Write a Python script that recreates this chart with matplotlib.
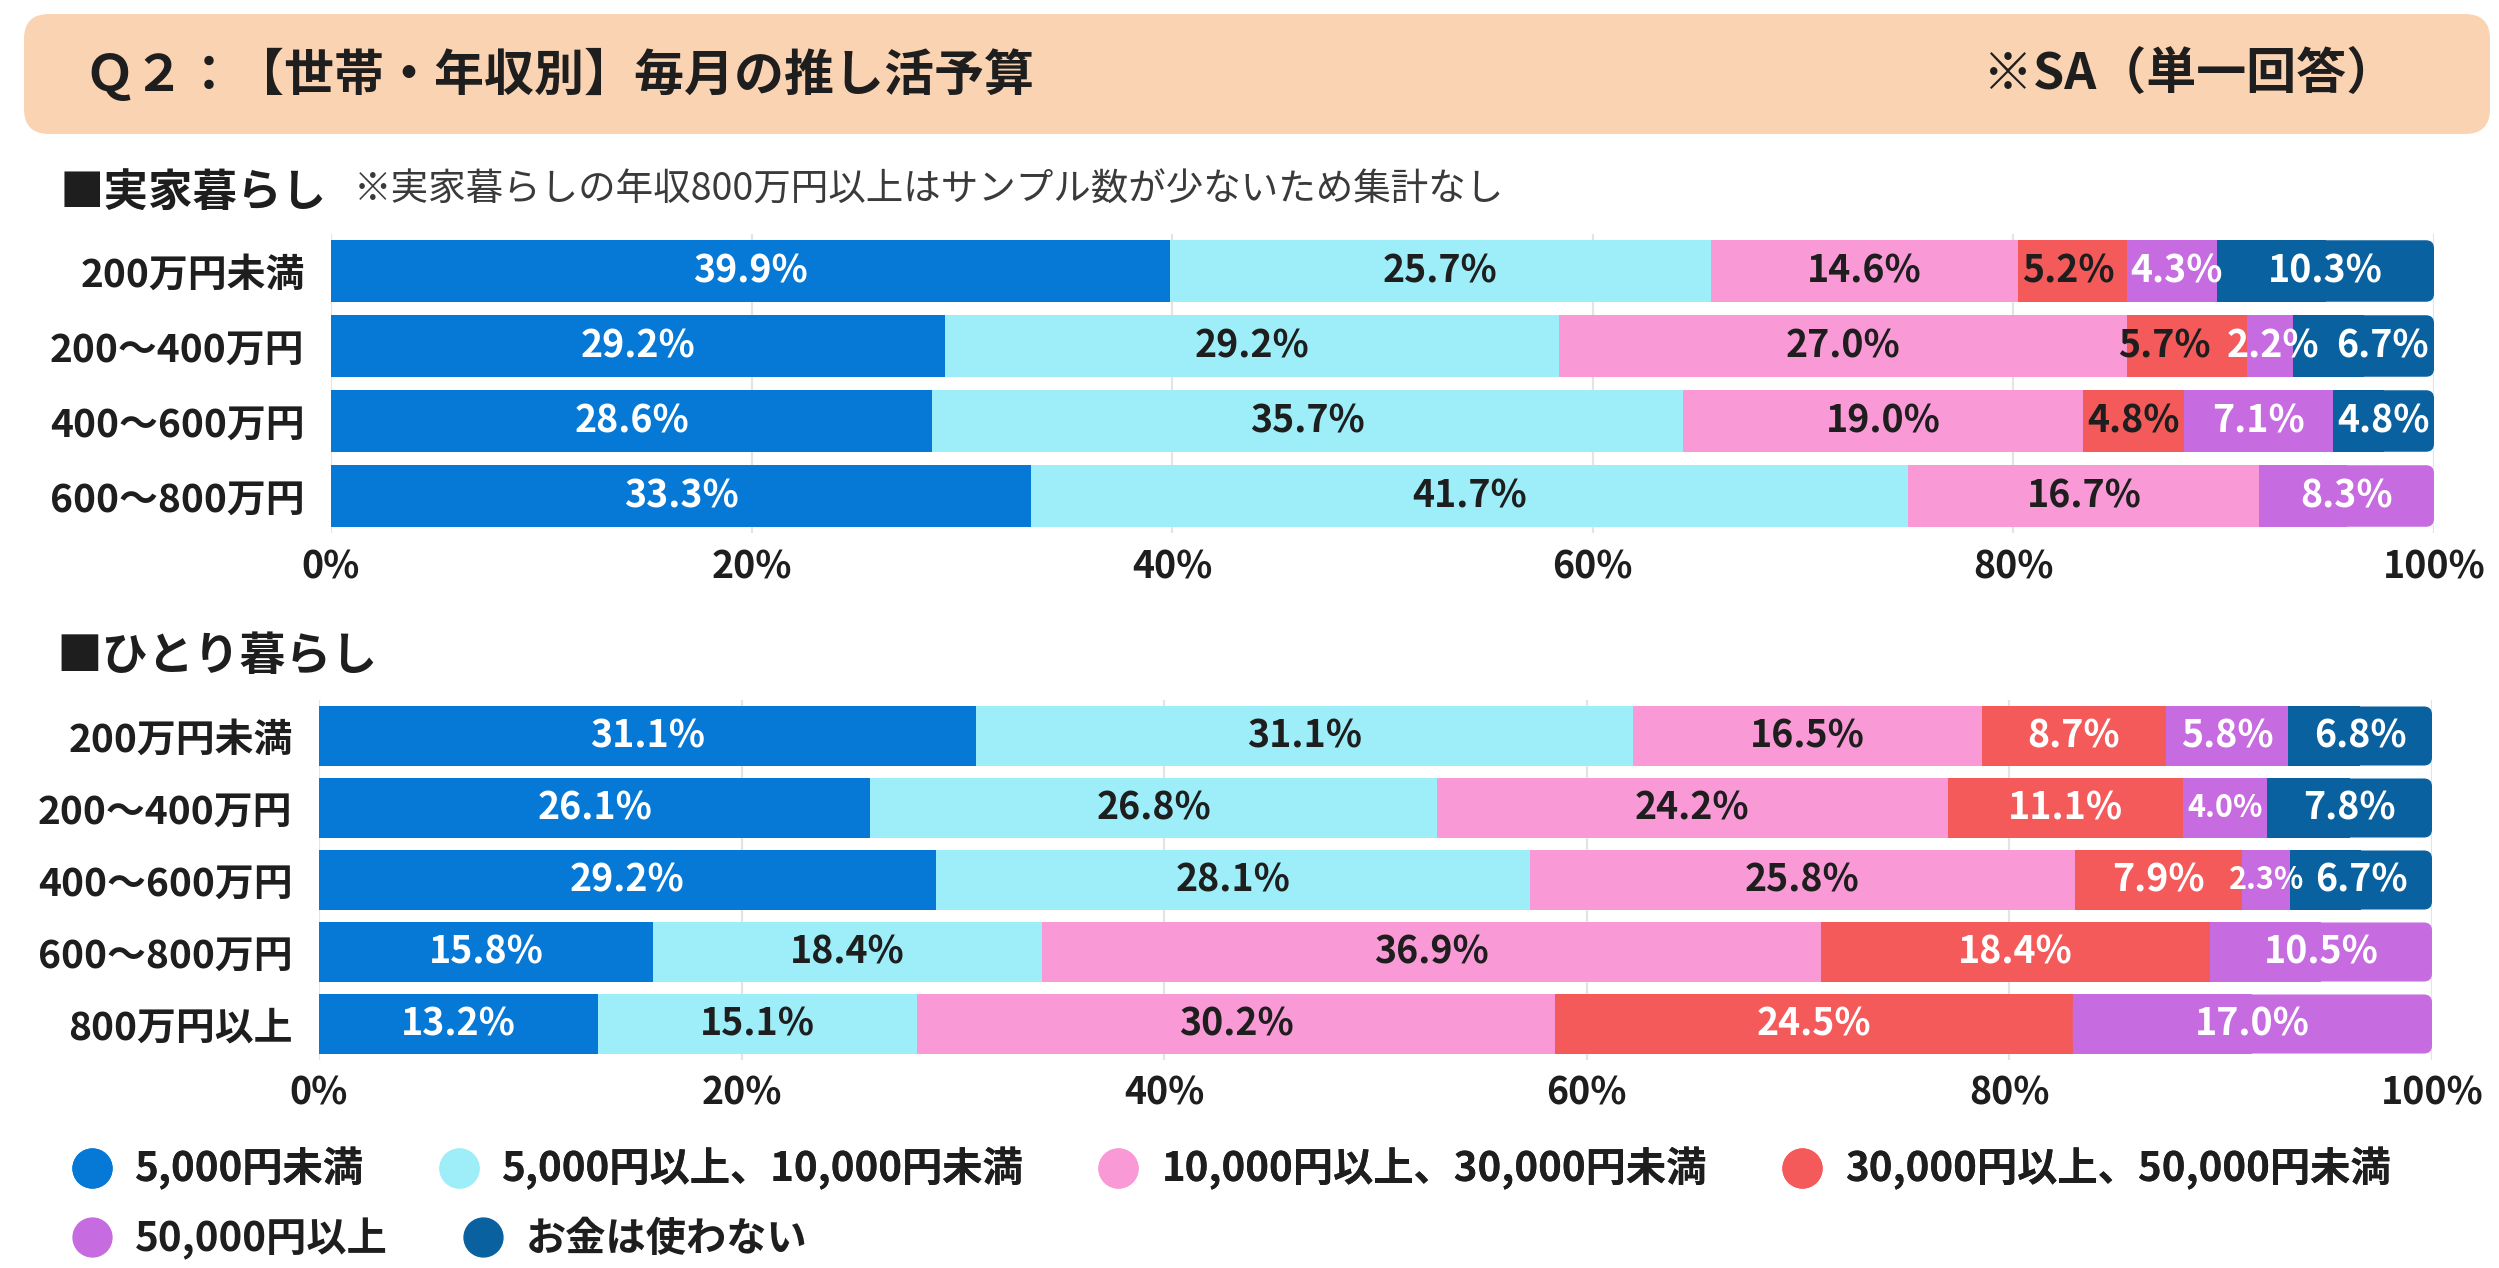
import numpy as np
import matplotlib.pyplot as plt
from matplotlib.patches import FancyBboxPatch, Rectangle
from matplotlib.lines import Line2D

plt.rcParams['font.family'] = ['Noto Sans CJK JP', 'DejaVu Sans']

# --- data -------------------------------------------------------------------
series = ['5,000円未満', '5,000円以上、10,000円未満', '10,000円以上、30,000円未満',
          '30,000円以上、50,000円未満', '50,000円以上', 'お金は使わない']
colors = ['#0679D6', '#9DEEF9', '#F99AD6', '#F55A5A', '#C66BE0', '#0A619F']

# 実家暮らし
home_cats = ['200万円未満', '200～400万円', '400～600万円', '600～800万円']
home_lt5k = [39.9, 29.2, 28.6, 33.3]
home_5k10k = [25.7, 29.2, 35.7, 41.7]
home_10k30k = [14.6, 27.0, 19.0, 16.7]
home_30k50k = [5.2, 5.7, 4.8, 0]
home_50k = [4.3, 2.2, 7.1, 8.3]
home_none = [10.3, 6.7, 4.8, 0]

# ひとり暮らし
solo_cats = ['200万円未満', '200～400万円', '400～600万円', '600～800万円', '800万円以上']
solo_lt5k = [31.1, 26.1, 29.2, 15.8, 13.2]
solo_5k10k = [31.1, 26.8, 28.1, 18.4, 15.1]
solo_10k30k = [16.5, 24.2, 25.8, 36.9, 30.2]
solo_30k50k = [8.7, 11.1, 7.9, 18.4, 24.5]
solo_50k = [5.8, 4.0, 2.3, 10.5, 17.0]
solo_none = [6.8, 7.8, 6.7, 0, 0]

xticks = [0, 20, 40, 60, 80, 100]

TXT = '#1e1e1e'
BAR_H = 0.82


def stacked(ax, cats, vals, lab_colors, small_below=0):
    y = np.arange(len(cats))
    left = np.zeros(len(cats))
    labels = {i: [] for i in range(len(cats))}
    last = {}
    for k, v in enumerate(vals):
        v = np.asarray(v, float)
        bars = ax.barh(y, v, left=left, height=BAR_H, color=colors[k], zorder=2)
        for i in range(len(cats)):
            if v[i] <= 0:
                continue
            last[i] = (bars[i], k)
            fs = 22 if v[i] < small_below else 27
            t = ax.text(left[i] + v[i] / 2, y[i], f'{v[i]:.1f}%', ha='center',
                        va='center', color=lab_colors[k], fontsize=fs,
                        fontweight='bold', zorder=3)
            labels[i].append(t)
        left += v

    # rounded right end on the last segment of each row
    ax.set_xlim(0, 100)
    ax.set_ylim(len(cats) - 0.5, -0.5)
    bb = ax.get_window_extent()
    px_x = bb.width / 100
    px_y = bb.height / len(cats)
    r = 8 / px_x
    for i, (rect, k) in last.items():
        rect.set_visible(False)
        x0, y0 = rect.get_x(), rect.get_y()
        w, h = rect.get_width(), rect.get_height()
        ax.add_patch(FancyBboxPatch((x0, y0), w, h,
                                    boxstyle=f'round,pad=0,rounding_size={r}',
                                    mutation_aspect=px_x / px_y,
                                    fc=colors[k], ec='none', zorder=2))
        ax.add_patch(Rectangle((x0, y0), w / 2, h, fc=colors[k], ec='none',
                               zorder=2))

    ax.set_yticks(y, cats)
    ax.set_xticks(xticks, [f'{t}%' for t in xticks])
    ax.grid(axis='x', color='#e4e4e4', lw=1.6, zorder=0)
    ax.set_axisbelow(True)
    for s in ax.spines.values():
        s.set_visible(False)
    ax.tick_params(axis='y', length=0, pad=19, labelsize=28, labelcolor=TXT)
    ax.tick_params(axis='x', length=0, pad=10, labelsize=27, labelcolor=TXT)
    for lab in ax.get_yticklabels() + ax.get_xticklabels():
        lab.set_fontweight('bold')
    return labels


def separate(fig, ax, labels, gap_px=16, passes=8):
    # push apart neighbouring value labels that would collide
    ren = fig.canvas.get_renderer()
    inv = ax.transData.inverted()
    for _ in range(passes):
        for row in labels.values():
            for a, b in zip(row[:-1], row[1:]):
                ea = a.get_window_extent(ren)
                eb = b.get_window_extent(ren)
                over = ea.x1 + gap_px - eb.x0
                if over > 0:
                    d = inv.transform((over / 2, 0))[0] - inv.transform((0, 0))[0]
                    a.set_x(a.get_position()[0] - d)
                    b.set_x(b.get_position()[0] + d)


W, H = 2499, 1268
fig = plt.figure(figsize=(W / 100, H / 100), dpi=100)

# header band
fig.add_artist(FancyBboxPatch((0.24, (H - 134) / 100), 24.66, 1.2,
                              boxstyle='round,pad=0,rounding_size=0.25',
                              transform=fig.dpi_scale_trans,
                              fc='#F9D3B2', ec='none'))
fig.text(84 / W, 1 - 75 / H, 'Ｑ２：【世帯・年収別】毎月の推し活予算',
         fontsize=36, fontweight='bold', va='center', color=TXT)
fig.text(1983 / W, 1 - 75 / H, '※SA（単一回答）',
         fontsize=36, fontweight='bold', va='center', color=TXT)

fig.text(60 / W, 1 - 193 / H, '■実家暮らし', fontsize=32, fontweight='bold',
         va='center', color=TXT)
fig.text(354 / W, 1 - 190 / H,
         '※実家暮らしの年収800万円以上はサンプル数が少ないため集計なし',
         fontsize=27, va='center', color='#3a3a3a')
fig.text(56 / W, 1 - 657 / H, '■ひとり暮らし', fontsize=33, fontweight='bold',
         va='center', color=TXT)

ax1 = fig.add_axes([331 / W, 1 - 533.5 / H, (2434 - 331) / W, 300 / H])
lab1 = stacked(ax1, home_cats,
               [home_lt5k, home_5k10k, home_10k30k, home_30k50k, home_50k, home_none],
               ['white', TXT, TXT, TXT, 'white', 'white'])

ax2 = fig.add_axes([319 / W, 1 - 1060 / H, (2432 - 319) / W, 360 / H])
lab2 = stacked(ax2, solo_cats,
               [solo_lt5k, solo_5k10k, solo_10k30k, solo_30k50k, solo_50k, solo_none],
               ['white', TXT, TXT, 'white', 'white', 'white'], small_below=5)

separate(fig, ax1, lab1)
separate(fig, ax2, lab2, gap_px=6)

# legend: two rows laid out left to right
handles = [Line2D([], [], ls='', marker='o', ms=28, color=c) for c in colors]
common = dict(loc='center left', frameon=False, borderpad=0, borderaxespad=0,
              handlelength=1.0, handletextpad=0.57, columnspacing=1.85,
              prop={'weight': 'bold', 'size': 29}, labelcolor=TXT)
leg1 = fig.legend(handles[:4], series[:4], ncol=4,
                  bbox_to_anchor=(72 / W, 1 - 1169 / H), **common)
fig.add_artist(leg1)
fig.legend(handles[4:], series[4:], ncol=2,
           bbox_to_anchor=(72 / W, 1 - 1239 / H), **common)

fig.savefig('out.png', dpi=100, facecolor='white')
